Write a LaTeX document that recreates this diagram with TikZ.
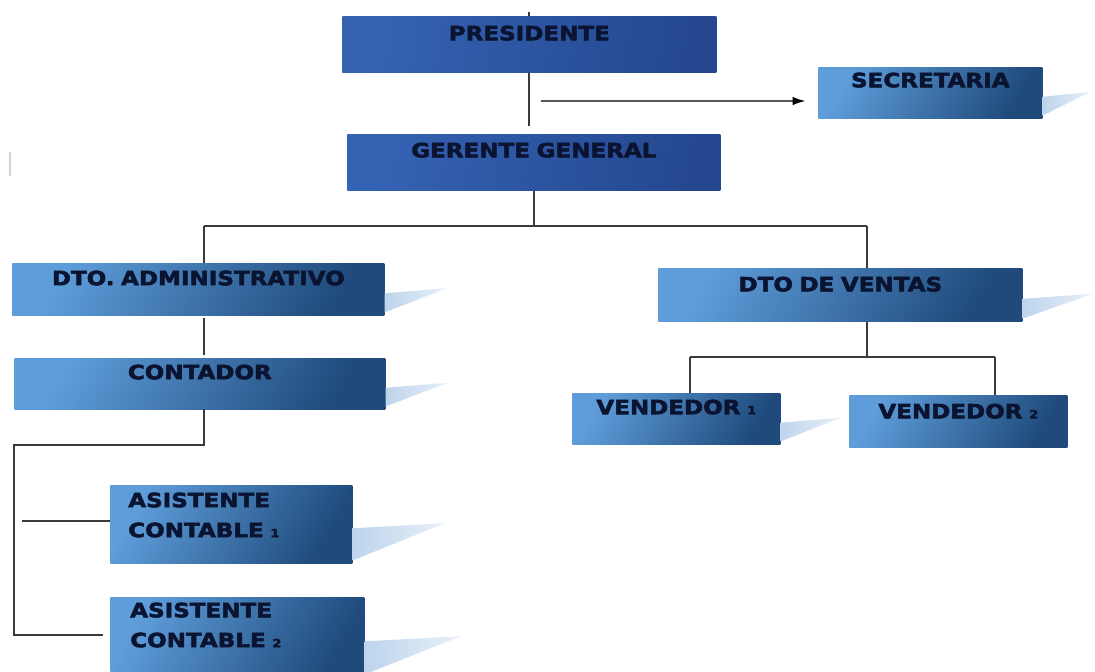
\documentclass[tikz,border=0pt]{standalone}
\usepackage{fontspec}
\setmainfont{DejaVu Sans}[FakeStretch=1.17, BoldFeatures={FakeBold=2.6}]
\usetikzlibrary{calc,arrows.meta}
\definecolor{tinta}{HTML}{0A1430}
\definecolor{azulA}{HTML}{3563B4}
\definecolor{azulB}{HTML}{24478F}
\definecolor{celesteA}{HTML}{5E9DDA}
\definecolor{celesteB}{HTML}{1F4A7B}
\definecolor{sombraC}{HTML}{BDD4EC}
\definecolor{trazo}{HTML}{3A3A3A}
\newcommand{\chico}[1]{{\fontsize{8}{8}\selectfont #1}}
\newcommand{\sombra}[2]{\shade[left color=sombraC, right color=sombraC!35] ($(#1.east)+(0,4)$) -- ($(#1.east)+(#2,-1)$) -- ($(#1.south east)+(0,-3)$) -- cycle;}
\tikzset{
  caja/.style={inner sep=0pt, anchor=north west, align=center, text=tinta,
    font=\bfseries\fontsize{14}{21.3}\selectfont,
    top color=celesteA, bottom color=celesteB, shading angle=60},
  jefe/.style={caja, top color=azulA, bottom color=azulB, shading angle=80},
  doble/.style={caja, align=left},
  linea/.style={draw=trazo, line width=1.2pt},
}
\begin{document}
\begin{tikzpicture}[x=0.025cm,y=-0.025cm]
\useasboundingbox (0,0) rectangle (1095,671);
\node[jefe, text width=9.35cm, text height=17.1pt, text depth=22.8pt] (pres) at (342,16) {PRESIDENTE};
\node[caja, text width=5.6cm, text height=14.2pt, text depth=22.1pt] (secr) at (818,67) {SECRETARIA};
\node[jefe, text width=9.325cm, text height=16.4pt, text depth=23.5pt] (ger) at (347,134) {GERENTE GENERAL};
\node[caja, text width=9.3cm, text height=15.6pt, text depth=21.3pt] (adm) at (12,263) {DTO. ADMINISTRATIVO};
\node[caja, text width=9.275cm, text height=14.9pt, text depth=21.3pt] (cont) at (14,358) {CONTADOR};
\node[doble, text width=5.15cm, inner xsep=12.8pt, text height=15.6pt, text depth=39.8pt] (asis1) at (110,485) {ASISTENTE\\CONTABLE \chico{1}};
\node[doble, text width=5.35cm, inner xsep=14.2pt, text height=14.2pt, text depth=42.7pt] (asis2) at (110,597) {ASISTENTE\\CONTABLE \chico{2}};
\node[caja, text width=9.1cm, text height=16.4pt, text depth=21.3pt] (vtas) at (658,268) {DTO DE VENTAS};
\node[caja, text width=5.2cm, text height=14.9pt, text depth=21.3pt] (vend1) at (572,393) {VENDEDOR \chico{1}};
\node[caja, text width=5.45cm, text height=16.4pt, text depth=20.6pt] (vend2) at (849,395) {VENDEDOR \chico{2}};
\sombra{secr}{48}
\sombra{adm}{62}
\sombra{cont}{62}
\sombra{asis1}{92}
\sombra{asis2}{96}
\sombra{vtas}{70}
\sombra{vend1}{60}
\coordinate (tap) at (541,101);
\coordinate (ramaA) at (204,226);
\coordinate (ramaB) at (867,226);
\coordinate (codo) at (14,445);
\coordinate (pieA) at (22,521);
\coordinate (pieB) at (14,635);
\coordinate (rv1) at (690,357);
\coordinate (rv2) at (995,357);
\draw[linea] (pres.north) -- ++(0,-4);
\draw[linea, shorten >=6pt] (pres.south) -- (pres.south |- ger.north);
\draw[draw=trazo!85, line width=1pt, -{Latex[length=9pt,width=6pt,black]}, shorten >=9pt] (tap) -- (tap -| secr.west);
\draw[linea] (ger.south) -- (ger.south |- ramaA);
\draw[linea] (ramaA) -- (ramaB);
\draw[linea] (ramaA) -- (ramaA |- adm.north);
\draw[linea] (ramaB) -- (ramaB |- vtas.north);
\draw[linea, shorten <=2pt, shorten >=2pt] (adm.south -| ramaA) -- (cont.north -| ramaA);
\draw[linea] (cont.south -| ramaA) -- (ramaA |- codo) -- (codo) -- (pieB) -- (pieB -| 103,0);
\draw[linea] (pieA) -- (pieA -| asis1.west);
\draw[linea] (vtas.south -| ramaB) -- (ramaB |- rv1);
\draw[linea] (rv1) -- (rv2);
\draw[linea] (rv1) -- (rv1 |- vend1.north);
\draw[linea] (rv2) -- (rv2 |- vend2.north);
\draw[gray!35, line width=1.5pt] (10,152) -- (10,176);
\end{tikzpicture}
\end{document}
